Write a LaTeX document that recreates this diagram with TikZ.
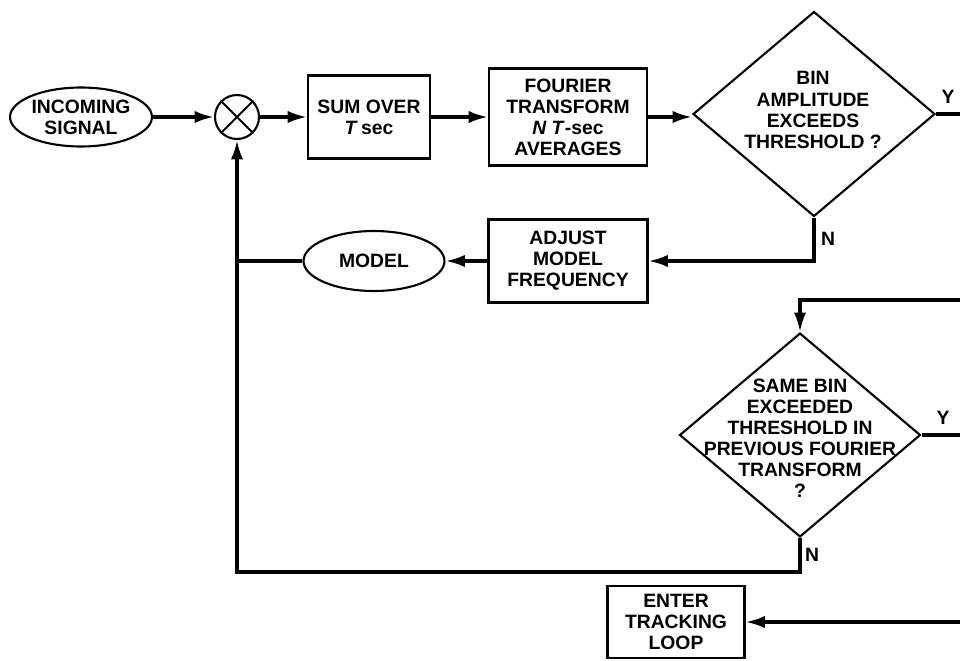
\documentclass[tikz,border=0pt]{standalone}
\usepackage{fontspec}
\setmainfont{Liberation Sans}
\usetikzlibrary{shapes.geometric,arrows.meta}

\begin{document}
\begin{tikzpicture}[x=0.02cm,y=-0.02cm,
  font=\fontsize{11}{12}\selectfont\bfseries,
  box/.style={draw,line width=1.2pt,align=center,inner sep=2pt},
  oval/.style={draw,ellipse,line width=1.2pt,align=center,inner sep=0pt},
  decision/.style={draw,diamond,line width=1.2pt,inner sep=0pt,minimum width=4.84cm,minimum height=4.1cm},
  flow/.style={line width=1.8pt,-{Latex[length=11pt,width=7pt]}},
  link/.style={line width=1.8pt},
  yn/.style={inner sep=0pt}]
\useasboundingbox (0,0) rectangle (960,660);
% top row
\node[oval,minimum width=2.84cm,minimum height=1.18cm] (inc) at (81,117) {INCOMING\\SIGNAL};
\node[draw,circle,line width=1.2pt,minimum size=0.88cm,inner sep=0pt] (mix) at (237,117) {};
\draw[line width=1.2pt] (mix.north west)--(mix.south east) (mix.north east)--(mix.south west);
\node[box,minimum width=2.44cm,minimum height=1.66cm] (sum) at (369,117) {SUM OVER\\\textit{T}\,sec};
\node[box,minimum width=3.16cm,minimum height=1.94cm] (fft) at (568,117) {FOURIER\\TRANSFORM\\\textit{N T}-sec\\AVERAGES};
\node[decision] (d1) at (814,114) {};
\node[align=center] (q1) at (813,110) {BIN\\AMPLITUDE\\EXCEEDS\\THRESHOLD ?};
% feedback row
\node[box,minimum width=3.18cm,minimum height=1.66cm] (adj) at (568,261) {ADJUST\\MODEL\\FREQUENCY};
\node[oval,minimum width=2.82cm,minimum height=1.2cm] (model) at (374,261) {MODEL};
% second test
\node[decision,minimum width=4.82cm,minimum height=4.08cm] (d2) at (800,435) {};
\node[align=center] (q2) at (800,438) {SAME BIN\\EXCEEDED\\THRESHOLD IN\\PREVIOUS FOURIER\\TRANSFORM\\?};
\node[box,minimum width=2.74cm,minimum height=1.44cm] (track) at (676,622) {ENTER\\TRACKING\\LOOP};
% free ends at the right edge
\coordinate (yes1) at (960,114);
\coordinate (back2) at (960,300);
\coordinate (yes2) at (960,435);
\coordinate (go) at (960,622);
\coordinate (ret) at (237,572);
% Y / N labels
\node[yn] (y1) at (948,97) {Y};
\node[yn] (n1) at (828,239) {N};
\node[yn] (y2) at (943,418) {Y};
\node[yn] (n2) at (812,555) {N};
% connectors
\draw[flow] (inc)--(mix);
\draw[flow] (mix)--(sum);
\draw[flow] (sum)--(fft);
\draw[flow] (fft.east)--(fft.east -| d1.west);
\draw[link] (d1.east)--(yes1);
\draw[flow] (d1.south) |- (adj);
\draw[flow] (adj)--(model);
\draw[link] (model)--(model -| mix);
\draw[flow] (d2.south) |- (ret)--(mix);
\draw[flow] (back2) -| (d2.north);
\draw[link] (d2.east)--(yes2);
\draw[flow] (go)--(track);
\end{tikzpicture}
\end{document}
